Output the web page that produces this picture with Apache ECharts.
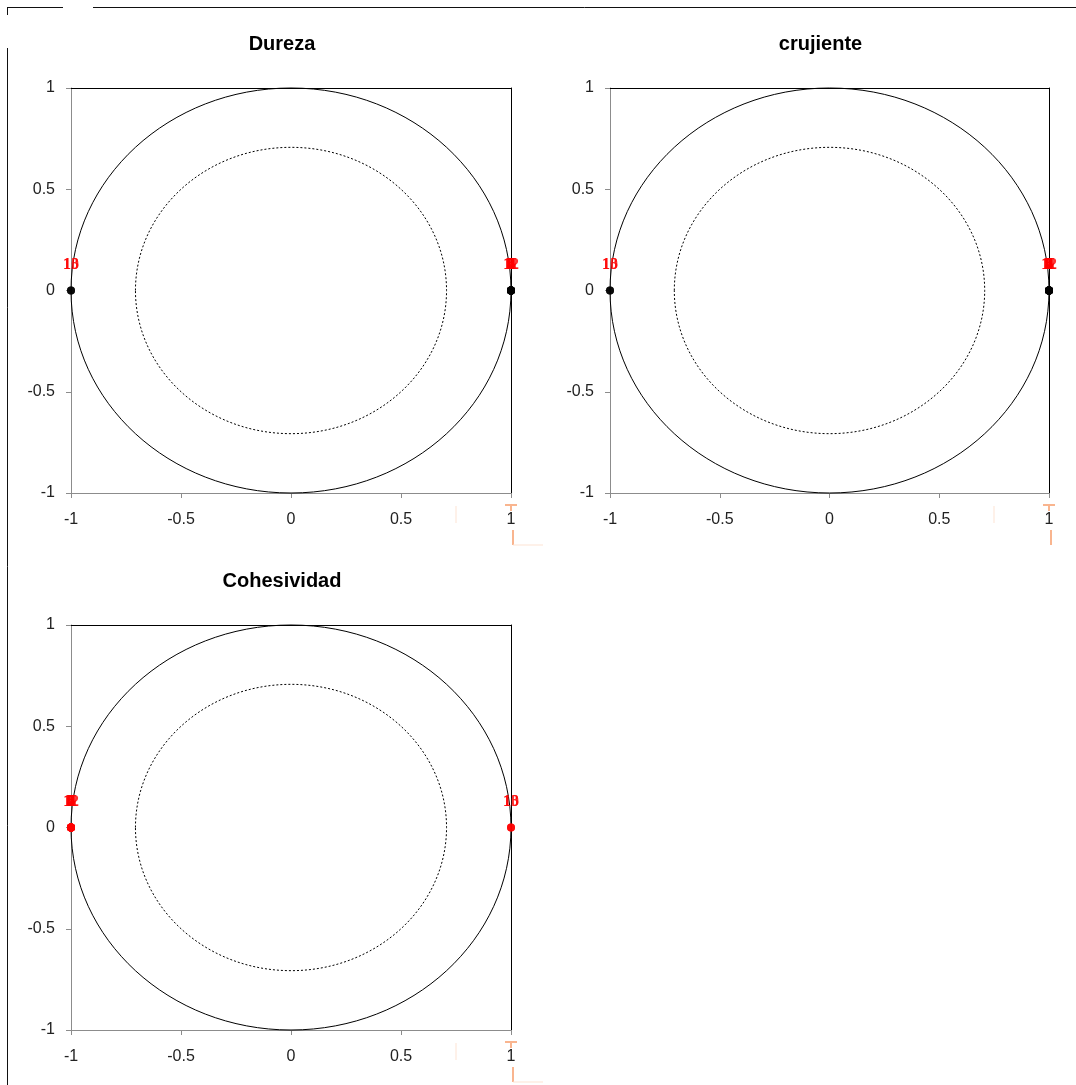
<!DOCTYPE html>
<html>
<head>
<meta charset="utf-8">
<script src="https://cdn.jsdelivr.net/npm/echarts@6/dist/echarts.min.js"></script>
<style>
  html, body { margin: 0; padding: 0; background: #fff; }
  #chart { width: 1076px; height: 1085px; }
</style>
</head>
<body>
<div id="chart"></div>
<script>
// Panel titles
const panelTitles = ['Dureza', 'crujiente', 'Cohesividad'];

// Sample names and their coordinates (x) on each correlation circle; y is 0 for all
const sampleNames = ['1', '2', '3', '4', '5', '6', '7', '8', '9', '10', '11', '12', '13'];
const durezaX     = [1, 1, 1, 1, 1, 1, 1, 1, 1, -1, 1, 1, -1];
const crujienteX  = [1, 1, 1, 1, 1, 1, 1, 1, 1, -1, 1, 1, -1];
const cohesividadX = [-1, -1, -1, -1, -1, -1, -1, -1, -1, 1, -1, -1, 1];
const sampleY     = [0, 0, 0, 0, 0, 0, 0, 0, 0, 0, 0, 0, 0];

// Reference circle radii (unit circle and sqrt(0.5))
const outerRadius = [1];
const innerRadius = [0.707];

// Axis ticks
const axisMin = -1, axisMax = 1, axisStep = 0.5;

const panelX = [durezaX, crujienteX, cohesividadX];
const pointColors = ['#000000', '#000000', '#ff0000'];

const grids = [
  { left: 71, top: 88, width: 440, height: 405 },
  { left: 610, top: 88, width: 439, height: 405 },
  { left: 71, top: 625, width: 440, height: 405 }
];

const titles = [];
const xAxes = [];
const yAxes = [];
const series = [];

function circleRenderer(dashed) {
  return function (params, api) {
    const r = api.value(0);
    const c = api.coord([0, 0]);
    const s = api.size([r, r]);
    return {
      type: 'ellipse',
      shape: { cx: c[0], cy: c[1], rx: s[0], ry: s[1] },
      style: {
        fill: null,
        stroke: '#000',
        lineWidth: 1,
        lineDash: dashed ? [2, 2] : null
      },
      silent: true
    };
  };
}

grids.forEach((g, i) => {
  titles.push({
    text: panelTitles[i],
    left: g.left + g.width / 2 - 14,
    top: g.top - 59,
    textAlign: 'center',
    textStyle: { fontFamily: 'Liberation Sans', fontSize: 20, fontWeight: 'bold', color: '#000' }
  });

  // bottom / left value axes
  xAxes.push({
    gridIndex: i, type: 'value', min: axisMin, max: axisMax, interval: axisStep,
    position: 'bottom',
    axisLine: { show: true, onZero: false, lineStyle: { color: '#8c8c8c', width: 1 } },
    axisTick: { show: true, length: 5, lineStyle: { color: '#8c8c8c' } },
    axisLabel: { margin: 19, fontFamily: 'Liberation Sans', fontSize: 16, color: '#222' },
    splitLine: { show: false }
  });
  yAxes.push({
    gridIndex: i, type: 'value', min: axisMin, max: axisMax, interval: axisStep,
    position: 'left',
    axisLine: { show: true, onZero: false, lineStyle: { color: '#8c8c8c', width: 1 } },
    axisTick: { show: true, length: 5, lineStyle: { color: '#8c8c8c' } },
    axisLabel: { margin: 16, fontFamily: 'Liberation Sans', fontSize: 16, color: '#222' },
    splitLine: { show: false }
  });
  // top / right frame
  xAxes.push({
    gridIndex: i, type: 'value', min: axisMin, max: axisMax, position: 'top',
    axisLine: { show: true, onZero: false, lineStyle: { color: '#000', width: 1 } },
    axisTick: { show: false }, axisLabel: { show: false }, splitLine: { show: false }
  });
  yAxes.push({
    gridIndex: i, type: 'value', min: axisMin, max: axisMax, position: 'right',
    axisLine: { show: true, onZero: false, lineStyle: { color: '#000', width: 1 } },
    axisTick: { show: false }, axisLabel: { show: false }, splitLine: { show: false }
  });

  const xi = i * 2, yi = i * 2;

  series.push({
    type: 'custom', xAxisIndex: xi, yAxisIndex: yi, silent: true,
    renderItem: circleRenderer(false),
    data: outerRadius.map(r => [r]),
    z: 2
  });
  series.push({
    type: 'custom', xAxisIndex: xi, yAxisIndex: yi, silent: true,
    renderItem: circleRenderer(true),
    data: innerRadius.map(r => [r]),
    z: 2
  });

  series.push({
    type: 'scatter', xAxisIndex: xi, yAxisIndex: yi,
    symbol: 'circle', symbolSize: 8,
    itemStyle: { color: pointColors[i] },
    data: sampleNames.map((n, k) => ({ name: n, value: [panelX[i][k], sampleY[k]] })),
    label: {
      show: true, position: 'top', distance: 14,
      formatter: '{b}',
      fontFamily: 'Liberation Serif', fontSize: 16, fontWeight: 'bold', color: '#ff0000'
    },
    labelLayout: { hideOverlap: false },
    z: 5
  });
});

// Outer frame strokes and faint orange marks around the page
const frame = { stroke: '#111', lineWidth: 1 };
const orange = { stroke: '#f9b58f', lineWidth: 2 };
const faint = { stroke: '#fde3d3', lineWidth: 1 };
const graphics = [
  { type: 'line', shape: { x1: 7, y1: 7.5, x2: 63, y2: 7.5 }, style: frame },
  { type: 'line', shape: { x1: 93, y1: 7.5, x2: 1076, y2: 7.5 }, style: frame },
  { type: 'line', shape: { x1: 7.5, y1: 7, x2: 7.5, y2: 15 }, style: frame },
  { type: 'line', shape: { x1: 7.5, y1: 48, x2: 7.5, y2: 1085 }, style: frame }
];
[[511, 505], [1049, 505], [511, 1042]].forEach(([x, y], k) => {
  graphics.push({ type: 'line', shape: { x1: x - 6, y1: y, x2: x + 6, y2: y }, style: orange });
  graphics.push({ type: 'line', shape: { x1: x, y1: y, x2: x, y2: y + 6 }, style: orange });
  graphics.push({ type: 'line', shape: { x1: x + 2, y1: y + 25, x2: x + 2, y2: y + 40 }, style: orange });
  if (k !== 1) {
    graphics.push({ type: 'line', shape: { x1: x + 2, y1: y + 40, x2: x + 32, y2: y + 40 }, style: faint });
  }
  graphics.push({ type: 'line', shape: { x1: x - 55, y1: y + 1, x2: x - 55, y2: y + 18 }, style: faint });
});

const chart = echarts.init(document.getElementById('chart'), null, { renderer: 'canvas' });
chart.setOption({
  animation: false,
  backgroundColor: '#fff',
  title: titles,
  grid: grids,
  xAxis: xAxes,
  yAxis: yAxes,
  series: series,
  graphic: graphics
});
</script>
</body>
</html>
